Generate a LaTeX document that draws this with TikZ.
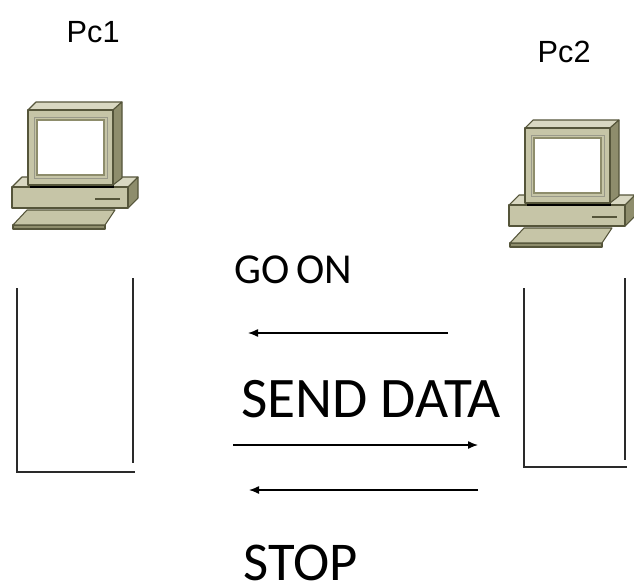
\documentclass[tikz,border=0pt]{standalone}
\usepackage{fontspec}
\setmainfont{Carlito}
\newfontfamily\labelfont{Liberation Sans}
\usetikzlibrary{arrows.meta}
\definecolor{caseface}{HTML}{C6C5A7}
\definecolor{casetop}{HTML}{D9D8C2}
\definecolor{caseside}{HTML}{8E8D6C}
\definecolor{caseline}{HTML}{55553A}
\definecolor{bufline}{HTML}{2A2A2A}
\tikzset{
  pcbody/.style={draw=caseline,line width=.8pt,line join=round},
  buffer/.style={bufline,line width=1.8pt},
  msg/.style={-{Latex[length=7.5pt,width=6pt]},line width=1pt},
  msgtext/.style={anchor=base west,inner sep=0pt},
  pcname/.style={anchor=base west,font=\labelfont\fontsize{23}{26}\selectfont},
  pc/.pic={
    % desktop unit
    \filldraw[pcbody,fill=casetop] (-16,77)--(-6,67)--(110,67)--(100,77)--cycle;
    \filldraw[pcbody,fill=caseside] (100,77)--(110,67)--(110,88)--(100,98)--cycle;
    \filldraw[pcbody,fill=caseface] (-16,77) rectangle (100,98);
    \draw[caseline,line width=1.6pt] (67,89)--(92,89);
    % monitor
    \fill[black] (2,74) rectangle (86,78);
    \filldraw[pcbody,fill=casetop] (0,0)--(8,-8)--(94,-8)--(85,0)--cycle;
    \filldraw[pcbody,fill=caseside] (85,0)--(94,-8)--(94,68)--(85,75)--cycle;
    \filldraw[pcbody,fill=caseface] (0,0) rectangle (85,75);
    \draw[caseline!60] (6,7) rectangle (79,68);
    \filldraw[draw=caseside,fill=white,line width=1.2pt] (9,10) rectangle (76,65);
    % keyboard
    \filldraw[pcbody,fill=caseside] (-15,115) rectangle (77,119);
    \filldraw[pcbody,fill=caseface] (-15,115)--(-1,100)--(87,100)--(77,115)--cycle;
  }
}

\begin{document}
\begin{tikzpicture}[>=Latex,x=.75pt,y=-.75pt]
\useasboundingbox (0,0) rectangle (634,585);
% the two hosts
\pic at (28,110) {pc};
\pic at (525,128) {pc};
\node[pcname] (pc1) at (62,43) {Pc1};
\node[pcname] (pc2) at (533,62) {Pc2};
% receive buffers under each host
\draw[buffer] (17,288)--(17,472)--(135,472);
\draw[buffer] (133,278)--(133,463);
\draw[buffer] (524,288)--(524,467)--(627,467);
\draw[buffer] (625,278)--(625,460);
% flow-control messages
\coordinate (goonA) at (448,333);
\coordinate (goonB) at (248,333);
\coordinate (sendA) at (233,445);
\coordinate (sendB) at (478,445);
\coordinate (stopA) at (478,490);
\coordinate (stopB) at (249,490);
\draw[msg] (goonA)--(goonB);
\draw[msg] (sendA)--(sendB);
\draw[msg] (stopA)--(stopB);
\node[msgtext,font=\fontsize{32}{36}\selectfont] (goon) at (234,283) {GO\,ON};
\node[msgtext,font=\fontsize{43}{48}\selectfont] (send) at (241,417) {SEND DATA};
\node[msgtext,font=\fontsize{41}{46}\selectfont] (stop) at (243,580) {STOP};
\end{tikzpicture}
\end{document}
